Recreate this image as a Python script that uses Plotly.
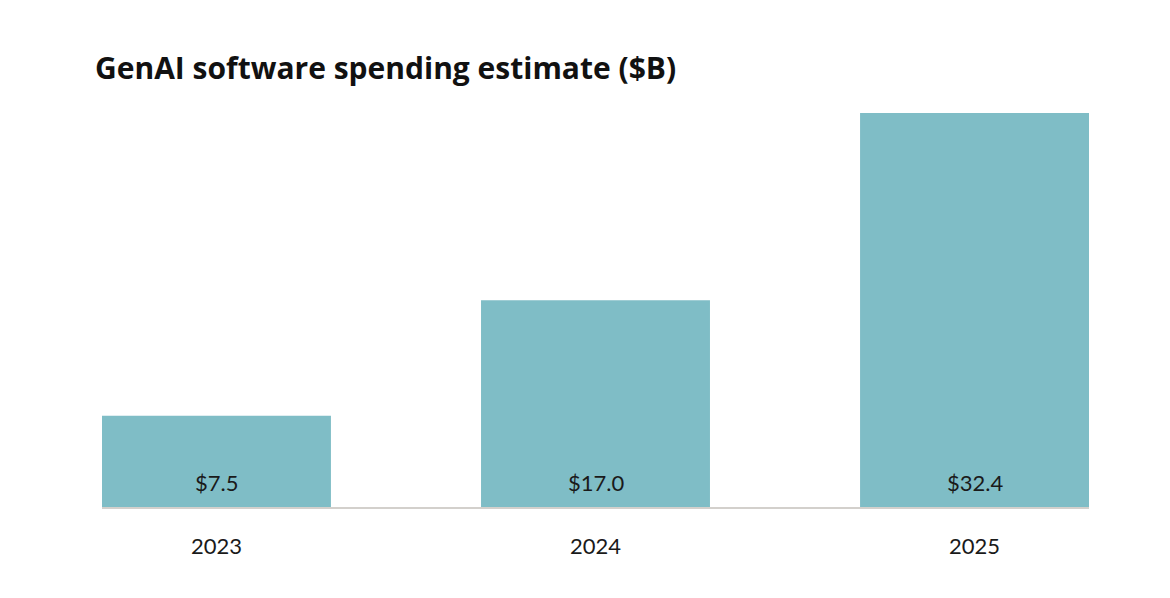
import plotly.graph_objects as go

years = ["2023", "2024", "2025"]
spending = [7.5, 17.0, 32.4]
value_labels = ["$7.5", "$17.0", "$32.4"]

title_text = "GenAI software spending estimate ($B)"
bar_color = "#7fbdc6"
label_font = "Lato, Roboto, sans-serif"

W, H = 1154, 582

fig = go.Figure()
fig.add_trace(go.Bar(
    x=years,
    y=spending,
    marker=dict(color=bar_color, line=dict(width=0)),
    width=0.604,
    hoverinfo="skip",
))

for i, lab in enumerate(value_labels):
    fig.add_annotation(
        x=i, xref="x", y=0, yref="y", text=lab, showarrow=False,
        xanchor="center", yanchor="bottom", yshift=9,
        font=dict(family=label_font, size=22, color="#1a1a1a"),
    )

fig.update_layout(
    width=W,
    height=H,
    margin=dict(l=94, r=W - 94 - 987, t=92, b=H - 92 - 407),
    paper_bgcolor="white",
    plot_bgcolor="white",
    showlegend=False,
    title=dict(
        text="<b>" + title_text + "</b>",
        x=87 / W,
        xanchor="left",
        y=1 - 60 / H,
        yanchor="middle",
        font=dict(family="Open Sans, sans-serif", size=30, color="#111111"),
    ),
    xaxis=dict(
        type="category",
        range=[-0.302, 2.302],
        showgrid=False,
        zeroline=False,
        showline=True,
        linecolor="#d3d0cc",
        linewidth=1.5,
        ticks="",
        ticklabelstandoff=19,
        tickfont=dict(family=label_font, size=22, color="#1a1a1a"),
    ),
    yaxis=dict(
        range=[0, 33.47],
        visible=False,
        showgrid=False,
        zeroline=False,
    ),
)

fig.write_html("out.html")
